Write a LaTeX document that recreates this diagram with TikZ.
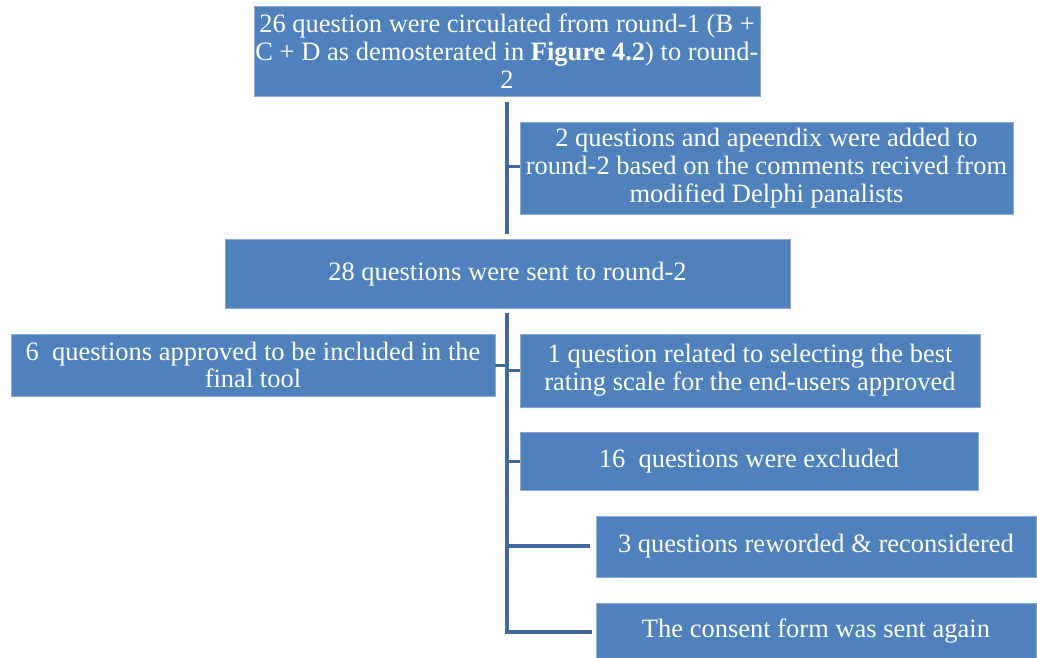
\documentclass[tikz,border=0pt]{standalone}
\usepackage{fontspec}
\setmainfont{Liberation Serif}[BoldFont={Liberation Serif Bold}]
\definecolor{boxblue}{HTML}{4F81BD}
\definecolor{lineblue}{HTML}{41699C}
\definecolor{edgeblue}{HTML}{8DAAD3}
\begin{document}
\begin{tikzpicture}[x=1pt,y=-1pt,
  box/.style={fill=boxblue,draw=edgeblue,line width=0.6pt,text=white,align=center,
    inner sep=0pt,font=\fontsize{26.5}{27.8}\selectfont},
  link/.style={draw=lineblue,line width=4pt},
  stub/.style={draw=lineblue,line width=3pt}]
\useasboundingbox (0,0) rectangle (1037,657);
\node[box,minimum width=506,minimum height=90] (n1) at (507,51) {26 question were circulated from round-1 (B +\\C + D as demosterated in \textbf{Figure 4.2}) to round-\\2};
\node[box,minimum width=493,minimum height=92] (n2) at (766.5,168) {2 questions and apeendix were added to\\round-2 based on the comments recived from\\modified Delphi panalists};
\node[box,minimum width=565,minimum height=69] (n3) at (507.5,274) {28 questions were sent to round-2};
\node[box,minimum width=484,minimum height=62] (n4) at (253,365) {6\ \ questions approved to be included in the\\final tool};
\node[box,minimum width=460,minimum height=73] (n5) at (750,370.5) {1 question related to selecting the best\\rating scale for the end-users approved};
\node[box,minimum width=458,minimum height=58] (n6) at (749,461) {16\ \ questions were excluded};
\node[box,minimum width=440,minimum height=61] (n7) at (816,546.5) {3 questions reworded \& reconsidered};
\node[box,minimum width=440,minimum height=56] (n8) at (816,631) {The consent form was sent again};
% first trunk
\coordinate (t1a) at (507,102);
\coordinate (t1b) at (507,234);
\coordinate (s2) at (507,166);
\draw[link] (t1a) -- (t1b);
\draw[stub] (s2) -- (s2 -| n2.west);
% second trunk
\coordinate (t2a) at (507,315);
\coordinate (t2b) at (507,632);
\coordinate (s4) at (507,365);
\coordinate (s5) at (507,370);
\coordinate (s6) at (507,461);
\draw[link,line cap=rect] (t2a) -- (t2b) -- (590,632);
\draw[stub] (s4) -- (s4 -| n4.east);
\draw[stub] (s5) -- (s5 -| n5.west);
\draw[stub] (s6) -- (s6 -| n6.west);
\coordinate (b7) at (507,546);
\coordinate (e7) at (590,546);
\draw[link] (b7) -- (e7);
\end{tikzpicture}
\end{document}
